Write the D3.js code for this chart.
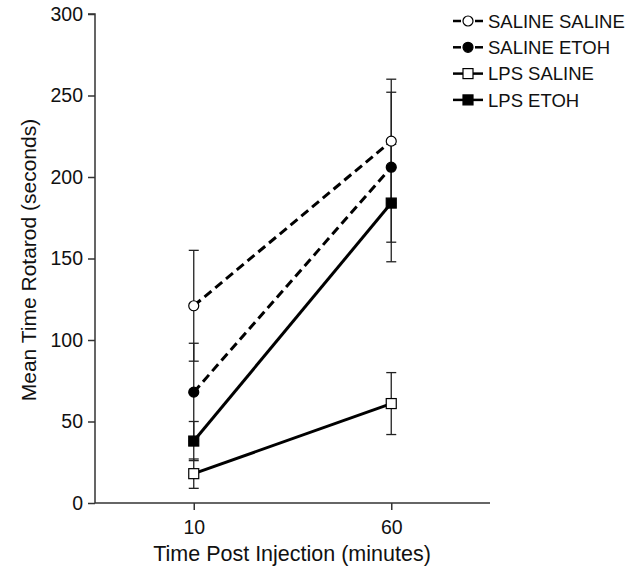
<!DOCTYPE html>
<html><head><meta charset="utf-8">
<script src="https://cdn.jsdelivr.net/npm/d3@7"></script>
<style>body{margin:0;background:#fff}svg{display:block;font-family:"Liberation Sans",Arial,Helvetica,sans-serif}</style>
</head><body><svg id="c" width="633" height="568"></svg>
<script>
const categories = ["10", "60"];
const seriesNames = ["SALINE SALINE", "SALINE ETOH", "LPS SALINE", "LPS ETOH"];
const salineSaline = [121, 222];
const salineSalineErr = [34, 38];
const salineEtoh = [68, 206];
const salineEtohErr = [30, 46];
const lpsSaline = [18, 61];
const lpsSalineErr = [9, 19];
const lpsEtoh = [38, 184];
const lpsEtohErr = [12, 36];
const yTicks = [0, 50, 100, 150, 200, 250, 300];

const series = [
  {name: seriesNames[0], values: salineSaline, err: salineSalineErr, dashed: true, marker: "circle", fill: "#fff"},
  {name: seriesNames[1], values: salineEtoh, err: salineEtohErr, dashed: true, marker: "circle", fill: "#000"},
  {name: seriesNames[2], values: lpsSaline, err: lpsSalineErr, dashed: false, marker: "square", fill: "#fff"},
  {name: seriesNames[3], values: lpsEtoh, err: lpsEtohErr, dashed: false, marker: "square", fill: "#000"}
];

const svg = d3.select("#c");
const x = d3.scalePoint().domain(categories).range([95, 490]).padding(0.5);
const y = d3.scaleLinear().domain([0, 300]).range([503, 14]);

// axes
const yAxis = svg.append("g").attr("transform", "translate(95,0)")
  .call(d3.axisLeft(y).tickValues(yTicks).tickSize(7).tickPadding(5));
const xAxis = svg.append("g").attr("transform", "translate(0,503)")
  .call(d3.axisBottom(x).tickSize(7).tickPadding(10).tickSizeOuter(0));
[yAxis, xAxis].forEach(a => {
  a.select(".domain").attr("stroke", "#333").attr("stroke-width", 1.5);
  a.selectAll(".tick line").attr("stroke", "#333").attr("stroke-width", 1.5);
  a.selectAll(".tick text").attr("fill", "#111").style("font-size", "19.5px").style("font-family", "inherit");
});
yAxis.select(".domain").attr("d", "M0," + y(0) + "V" + y(300) + "H-7");
xAxis.select(".domain").attr("d", "M95,0H490");

// axis titles
svg.append("text").attr("x", 292).attr("y", 561).attr("text-anchor", "middle")
  .style("font-size", "21.5px").attr("fill", "#111").text("Time Post Injection (minutes)");
svg.append("text").attr("transform", "translate(36,260) rotate(-90)").attr("text-anchor", "middle")
  .style("font-size", "21px").attr("fill", "#111").text("Mean Time Rotarod (seconds)");

// error bars
const eb = svg.append("g").attr("stroke", "#222").attr("stroke-width", 1.3);
series.forEach(s => {
  categories.forEach((c, i) => {
    const cx = x(c), top = y(s.values[i] + s.err[i]), bot = y(s.values[i] - s.err[i]);
    eb.append("line").attr("x1", cx).attr("x2", cx).attr("y1", top).attr("y2", bot);
    eb.append("line").attr("x1", cx - 5).attr("x2", cx + 5).attr("y1", top).attr("y2", top);
    eb.append("line").attr("x1", cx - 5).attr("x2", cx + 5).attr("y1", bot).attr("y2", bot);
  });
});

// lines
const line = d3.line().x((d, i) => x(categories[i])).y(d => y(d));
series.forEach(s => {
  svg.append("path").datum(s.values).attr("d", line).attr("fill", "none")
    .attr("stroke", "#000").attr("stroke-width", 3)
    .attr("stroke-dasharray", s.dashed ? "9,5" : null);
});

function marker(g, s, cx, cy) {
  if (s.marker === "circle") {
    g.append("circle").attr("cx", cx).attr("cy", cy).attr("r", 5)
      .attr("fill", s.fill).attr("stroke", "#000").attr("stroke-width", 1.2);
  } else {
    g.append("rect").attr("x", cx - 5).attr("y", cy - 5).attr("width", 10).attr("height", 10)
      .attr("fill", s.fill).attr("stroke", "#000").attr("stroke-width", 1.2);
  }
}
const mk = svg.append("g");
series.forEach(s => categories.forEach((c, i) => marker(mk, s, x(c), y(s.values[i]))));

// legend
const lg = svg.append("g");
series.forEach((s, k) => {
  const ly = 21 + k * 26.3;
  if (s.dashed) {
    lg.append("line").attr("x1", 453).attr("x2", 461).attr("y1", ly).attr("y2", ly).attr("stroke", "#000").attr("stroke-width", 2.5);
    lg.append("line").attr("x1", 475).attr("x2", 483).attr("y1", ly).attr("y2", ly).attr("stroke", "#000").attr("stroke-width", 2.5);
  } else {
    lg.append("line").attr("x1", 453).attr("x2", 483).attr("y1", ly).attr("y2", ly).attr("stroke", "#000").attr("stroke-width", 2.5);
  }
  marker(lg, s, 468, ly);
  lg.append("text").attr("x", 488).attr("y", ly + 6.8).style("font-size", "18.5px").attr("fill", "#111").text(s.name);
});
</script></body></html>
